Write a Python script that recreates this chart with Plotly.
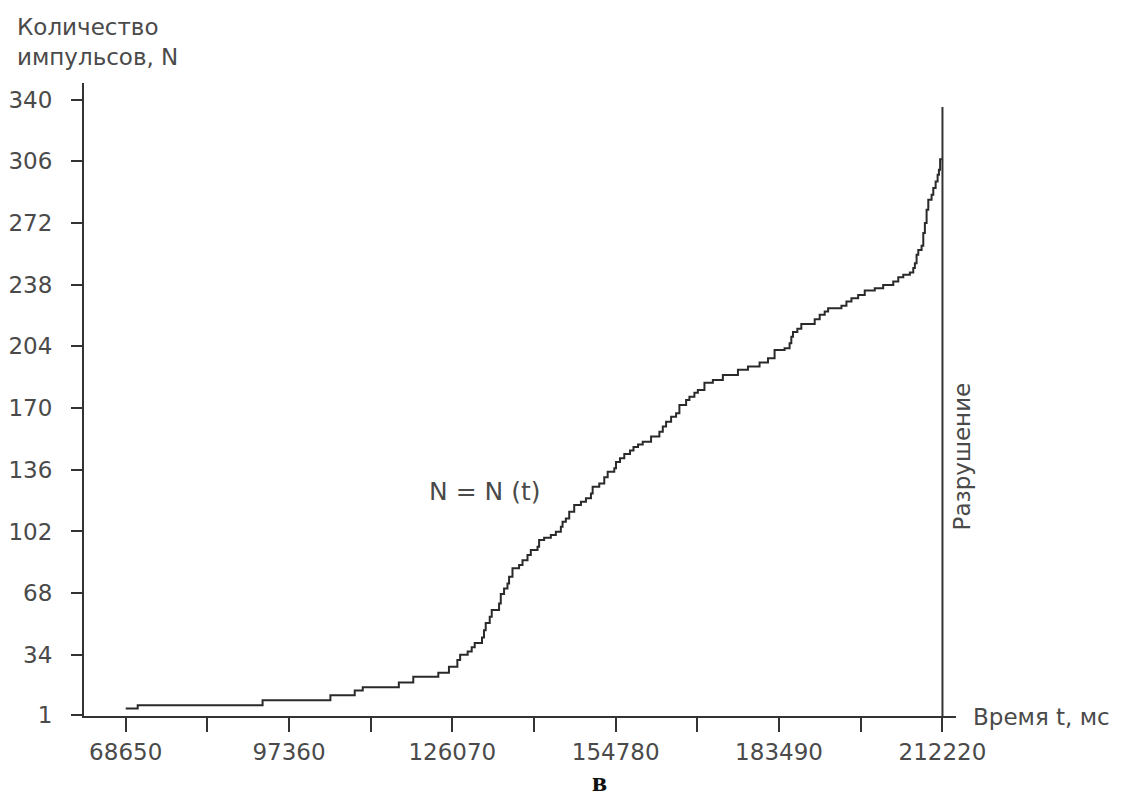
import plotly.graph_objects as go

# ---- data ----
time_ms = [68650, 70760, 92710, 104630, 108910, 110320, 116660, 119200, 123600, 125470,
           126950, 127440, 128760, 129470, 130000, 131280, 131630, 131930, 132640, 132990,
           134280, 134580, 135160, 135760, 136040, 136640, 137800, 138400, 139280, 139860,
           141040, 141320, 142200, 143380, 144260, 145140, 145440, 146020, 146610, 147490,
           148670, 149550, 150430, 150730, 151890, 152770, 153370, 154530, 154830, 155540,
           156290, 157300, 157910, 158710, 159530, 161000, 162460, 163060, 163640, 164520,
           165400, 165980, 167160, 167740, 168620, 169220, 170380, 171860, 173620, 176270,
           178030, 180070, 181550, 182710, 184470, 185350, 185650, 185950, 186710, 187410,
           189760, 190640, 191520, 192120, 194460, 195340, 196220, 197400, 198560, 200320,
           201800, 203570, 204450, 205330, 206490, 207090, 207370, 207670, 207970, 208550,
           208850, 209130, 209430, 209730, 210310, 210610, 211020, 211370, 211600, 211810,
           212220]
impulses = [4.4, 6.2, 9.0, 11.8, 14.4, 16.2, 18.8, 21.9, 24.1, 27.4,
            31.1, 34.1, 35.9, 38.2, 40.6, 43.5, 47.6, 51.5, 55.0, 58.7,
            62.3, 67.5, 70.6, 73.4, 77.0, 81.7, 83.5, 86.2, 89.0, 91.8,
            93.6, 97.3, 98.5, 100.0, 101.8, 104.6, 107.4, 109.2, 112.9, 116.6,
            118.4, 120.3, 123.0, 126.7, 128.5, 131.9, 134.9, 136.8, 140.3, 142.3,
            144.7, 146.6, 148.6, 150.0, 151.5, 154.3, 157.0, 159.8, 162.5, 165.3,
            167.2, 171.7, 174.5, 176.3, 178.5, 180.0, 184.0, 185.5, 188.3, 191.1,
            192.9, 195.1, 197.5, 202.1, 203.0, 205.8, 209.3, 212.0, 213.7, 216.4,
            219.0, 221.4, 223.2, 225.1, 226.4, 228.7, 230.6, 232.4, 234.8, 236.1,
            237.9, 239.8, 242.2, 243.5, 244.7, 247.2, 249.9, 254.5, 257.2, 259.5,
            266.5, 272.0, 279.3, 284.8, 287.6, 291.3, 294.9, 298.6, 301.4, 307.2,
            307.2]

x_tick_vals = [68650, 83005, 97360, 111715, 126070, 140425, 154780, 169135, 183490, 197845, 212220]
x_tick_text = ["68650", "", "97360", "", "126070", "", "154780", "", "183490", "", "212220"]
y_tick_vals = [1, 34, 68, 102, 136, 170, 204, 238, 272, 306, 340]
y_tick_text = ["1", "34", "68", "102", "136", "170", "204", "238", "272", "306", "340"]

failure_time = 212220
failure_top = 336

X_RANGE = [61320, 214600]
Y_RANGE = [0.3, 349.2]

FONT = "DejaVu Sans"
TXT = "#4a4a4a"
LINE = "#333333"

fig = go.Figure()
fig.add_trace(go.Scatter(
    x=time_ms, y=impulses, mode="lines",
    line=dict(color="#2a2a2a", width=2, shape="hv"),
    showlegend=False, hoverinfo="skip"))

fig.add_shape(type="line", xref="x", yref="y",
              x0=failure_time, x1=failure_time, y0=Y_RANGE[0], y1=failure_top,
              line=dict(color=LINE, width=2))

fig.update_xaxes(range=X_RANGE, showline=True, linecolor=LINE, linewidth=2,
                 ticks="outside", ticklen=14, tickwidth=1.5, tickcolor=LINE,
                 tickmode="array", tickvals=x_tick_vals, ticktext=x_tick_text,
                 showgrid=False, zeroline=False, ticklabelstandoff=0, automargin=False,
                 tickfont=dict(family=FONT, size=23, color=TXT))
fig.update_yaxes(range=Y_RANGE, showline=True, linecolor=LINE, linewidth=2,
                 ticks="outside", ticklen=11, tickwidth=1.5, tickcolor=LINE,
                 tickmode="array", tickvals=y_tick_vals, ticktext=y_tick_text,
                 showgrid=False, zeroline=False, ticklabelstandoff=14, automargin=False,
                 tickfont=dict(family=FONT, size=23, color=TXT))

ann = []
ann.append(dict(text="Количество<br>импульсов, N", xref="paper", yref="paper",
                x=-0.0791, y=1.0645, xanchor="left", yanchor="middle", align="left",
                showarrow=False, font=dict(family=FONT, size=23, color=TXT)))
ann.append(dict(text="Время t, мс", xref="paper", yref="paper",
                x=1.0172, y=-0.002, xanchor="left", yanchor="middle",
                showarrow=False, font=dict(family=FONT, size=23, color=TXT)))
ann.append(dict(text="Разрушение", xref="paper", yref="paper",
                x=1.0069, y=0.41, xanchor="center", yanchor="middle", textangle=-90,
                showarrow=False, font=dict(family=FONT, size=23, color=TXT)))
ann.append(dict(text="N = N (t)", xref="paper", yref="paper",
                x=0.4599, y=0.3554, xanchor="center", yanchor="middle",
                showarrow=False, font=dict(family=FONT, size=25, color=TXT)))
ann.append(dict(text="<b>в</b>", xref="paper", yref="paper",
                x=0.5917, y=-0.104, xanchor="center", yanchor="middle",
                showarrow=False, font=dict(family="Liberation Serif", size=28, color="#111111")))

# page body has an 8px margin; the figure is sized/offset to compensate
fig.update_layout(width=1115, height=791, paper_bgcolor="white", plot_bgcolor="white",
                  margin=dict(l=76, r=167, t=75, b=83, autoexpand=False), annotations=ann,
                  showlegend=False)

fig.write_html("out.html")
